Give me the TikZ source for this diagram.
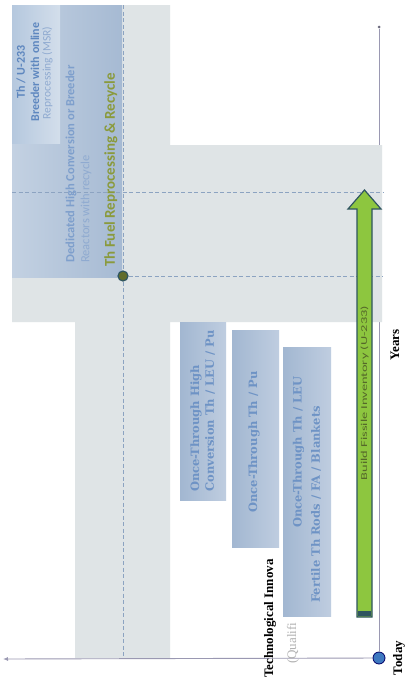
\documentclass[tikz,border=0pt]{standalone}
\usepackage{fontspec}
\setmainfont{Liberation Serif}
\newfontfamily\calib{Carlito}
\newfontfamily\slab{DejaVu Serif}
\usetikzlibrary{arrows.meta}
\definecolor{bggray}{HTML}{DFE4E6}
\definecolor{boxL}{HTML}{C3D1E2}
\definecolor{boxR}{HTML}{A6BAD3}
\definecolor{topL}{HTML}{B5C8DE}
\definecolor{topR}{HTML}{D3DEEB}
\definecolor{otL}{HTML}{A2B7D1}
\definecolor{otR}{HTML}{BFCDE0}
\definecolor{txtblue}{HTML}{5E87BF}
\definecolor{txtpale}{HTML}{8FAAD0}
\definecolor{olive}{HTML}{8A9A3C}
\definecolor{dashc}{HTML}{8CA3C1}
\definecolor{axisc}{HTML}{9A98B2}
\definecolor{agreen}{HTML}{8DC63F}
\definecolor{adark}{HTML}{2F5560}
\definecolor{atext}{HTML}{55682A}
\definecolor{todayblue}{HTML}{3E78C0}
\tikzset{
  dashline/.style={draw=dashc, line width=1pt, dash pattern=on 4pt off 2.5pt},
  axisline/.style={draw=axisc, line width=0.9pt},
  rot/.style={rotate=90, inner sep=0pt},
  topfont/.style={font=\calib\bfseries\fontsize{12}{14}\selectfont, text=txtblue},
  slabfont/.style={font=\slab\bfseries\fontsize{11.5}{14}\selectfont, text=txtblue!90!white},
  blackbold/.style={font=\bfseries\fontsize{13}{15}\selectfont, text=black}
}
\begin{document}
\begin{tikzpicture}[x=1pt,y=-1pt]
\useasboundingbox (0,0) rectangle (414,686);
\fill[white] (0,0) rectangle (414,686);

% axes
\node[circle, fill=todayblue, draw=blue!40!black, line width=0.8pt, inner sep=0pt, minimum size=12pt] (todaydot) at (379,658) {};
\coordinate (vtop) at (379,27);
\coordinate (htip) at (3,659);
\node[circle, fill=axisc!70!black, inner sep=0pt, minimum size=3pt] (vdot) at (vtop) {};
\draw[axisline] (todaydot) -- (vdot);

% gray background
\fill[bggray] (12,5) -- (170,5) -- (170,145) -- (382,145) -- (382,322) -- (170,322)
  -- (170,658) -- (75,658) -- (75,322) -- (12,322) -- cycle;

% blue boxes at top-left
\shade[left color=boxL, right color=boxR] (12,5) rectangle (122,277);
\shade[left color=topL, right color=topR] (12,5) rectangle (60,143);

% once-through boxes
\shade[left color=otL, right color=otR] (180,322) rectangle (226,500);
\shade[left color=otL, right color=otR] (232,330) rectangle (279,547);
\shade[left color=otL, right color=otR] (283,347) rectangle (331,616);

% dashed guides
\node[circle, fill=olive!70!black, draw=adark, line width=1.2pt, inner sep=0pt, minimum size=10pt] (pivot) at (123,276) {};
\coordinate (vdtop) at (123,5);
\coordinate (vdbot) at (123,658);
\coordinate (hdend) at (383,276);
\coordinate (h2a) at (12,192);
\coordinate (h2b) at (383,192);
\draw[dashline] (vdtop) -- (pivot);
\draw[dashline] (pivot) -- (vdbot);
\draw[dashline] (pivot) -- (hdend);
\draw[dashline] (h2a) -- (h2b);

% horizontal axis
\draw[axisline, -{Latex[length=5pt,width=4pt]}] (todaydot) -- (htip);

% green arrow
\fill[agreen, draw=adark, line width=1.2pt] (357,617) -- (357,209) -- (348,209) -- (364.5,190)
  -- (381,209) -- (372,209) -- (372,617) -- cycle;
\fill[adark] (357.6,611) rectangle (371.4,616.4);
\node[rot, font=\calib\fontsize{9}{10}\selectfont, text=atext] (build) at (364.5,393) {\scalebox{1.6}[1]{Build Fissile Inventory (U-233)}};

% top texts
\node[rot, topfont] (thu) at (21,72) {Th / U-233};
\node[rot, topfont] (breeder) at (35,72) {Breeder with online};
\node[rot, font=\calib\fontsize{11.5}{13}\selectfont, text=txtpale] (msr) at (47.5,73) {Reprocessing (MSR)};
\node[rot, anchor=west, font=\calib\bfseries\fontsize{12.5}{14}\selectfont, text=txtblue!80!white] (dedic) at (71,263) {Dedicated High Conversion or Breeder};
\node[rot, anchor=west, font=\calib\fontsize{12.5}{14}\selectfont, text=txtpale] (react) at (86,263) {Reactors with recycle};
\node[rot, anchor=west, font=\calib\bfseries\fontsize{15}{17}\selectfont, text=olive] (thfuel) at (111,267) {Th Fuel Reprocessing \& Recycle};

% once-through texts
\node[rot, anchor=west, slabfont] (ot1a) at (196,492) {Once-Through High};
\node[rot, anchor=west, slabfont] (ot1b) at (210,492) {Conversion Th / LEU / Pu};
\node[rot, slabfont] (ot2) at (254,442) {Once-Through Th / Pu};
\node[rot, anchor=west, slabfont] (ot3a) at (298.5,528) {Once-Through Th / LEU};
\node[rot, anchor=west, slabfont] (ot3b) at (316,603) {Fertile Th Rods / FA / Blankets};

% labels
\node[rot, anchor=west, blackbold] (techno) at (270,678) {Technological Innova};
\node[rot, anchor=west, font=\fontsize{13}{15}\selectfont, text=black!30] (qual) at (293,664) {(Qualifi};
\node[rot, blackbold] (years) at (395,345) {Years};
\node[rot, blackbold] (today) at (399,658) {Today};
\end{tikzpicture}
\end{document}
